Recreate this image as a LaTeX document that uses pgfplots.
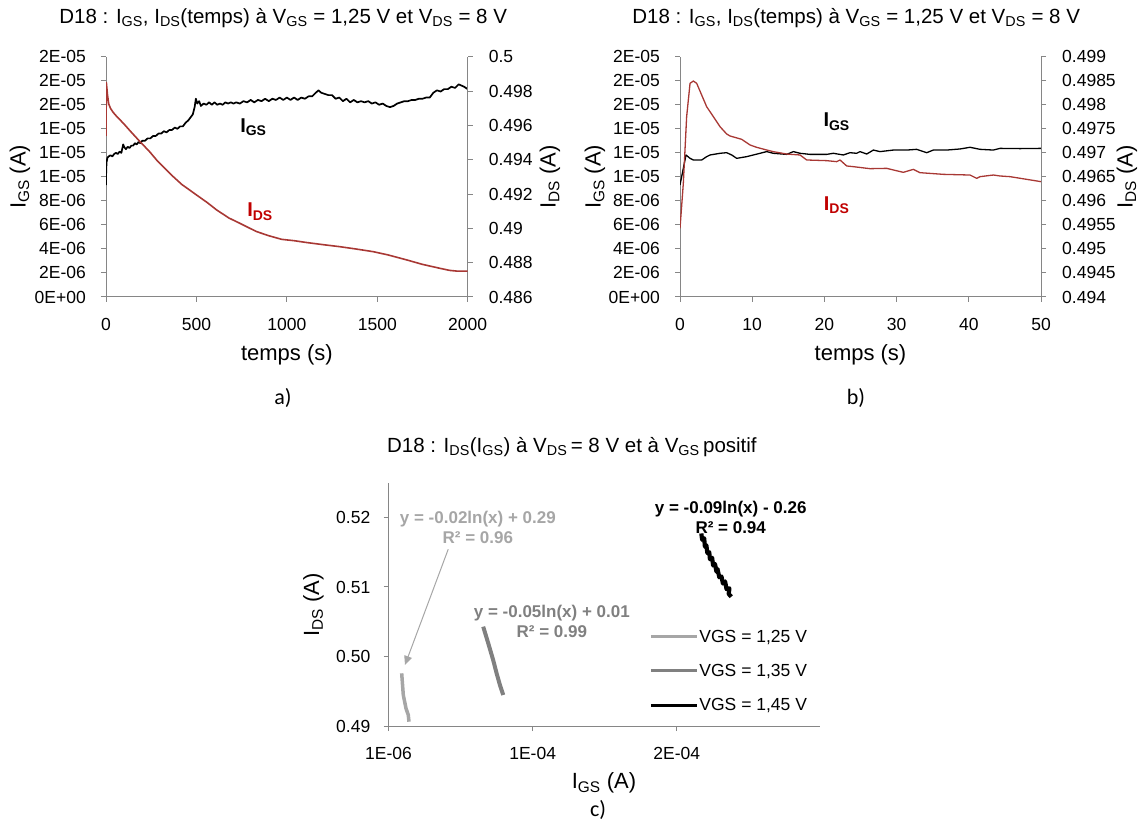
\documentclass[border=0pt]{standalone}
\usepackage{fontspec}
\setmainfont{Liberation Sans}
\newfontfamily\calibri{Carlito}
\usepackage{pgfplots}
\pgfplotsset{compat=1.18}
\usetikzlibrary{arrows.meta}
\definecolor{axgray}{RGB}{134,134,134}
\definecolor{idsred}{RGB}{168,56,52}
\definecolor{labred}{RGB}{192,0,0}
\definecolor{lgray}{RGB}{166,166,166}
\definecolor{mgray}{RGB}{128,128,128}
\newcommand{\tlf}{\fontsize{17.5}{20}\selectfont}
\newcommand{\lbf}{\fontsize{22}{24}\selectfont}
\newcommand{\ttf}{\fontsize{20.5}{23}\selectfont}
\pgfplotsset{
  fig/.style={
    scale only axis,
    axis line style={axgray, line width=1pt},
    tick style={axgray, line width=1pt},
    major tick length=5pt,
    tick align=outside,
    scaled ticks=false,
    tick label style={font=\tlf, text=black},
    xticklabel style={inner sep=0pt, anchor=center, yshift=-22.4pt},
  },
  lefty/.style={axis y line*=left, yticklabel style={inner sep=0pt, anchor=east, xshift=-15pt}},
  righty/.style={axis y line*=right, axis x line=none, yticklabel style={inner sep=0pt, anchor=west, xshift=16pt}},
}
\begin{document}
\begin{tikzpicture}[x=1pt,y=1pt]
\useasboundingbox (0,0) rectangle (1140,820);

% ---------------- a) left axis
\begin{axis}[fig, lefty, at={(106pt,523pt)}, anchor=south west,
  width=361.7pt, height=240.3pt,
  xmin=0, xmax=2000, ymin=0, ymax=2,
  axis x line*=bottom,
  xtick={0,500,1000,1500,2000}, xticklabels={0,500,1000,1500,2000},
  ytick={0,0.2,0.4,0.6,0.8,1,1.2,1.4,1.6,1.8,2},
  yticklabels={0E+00,2E-06,4E-06,6E-06,8E-06,1E-05,1E-05,1E-05,2E-05,2E-05,2E-05},
  xlabel={temps (s)}, ylabel={I\textsubscript{GS} (A)},
  every axis x label/.style={at={(axis description cs:0.5,-0.24)}, anchor=center, font=\lbf},
  every axis y label/.style={at={(axis description cs:-0.238,0.5)}, anchor=center, rotate=90, font=\lbf},
  title={D18 : I\textsubscript{GS},\ I\textsubscript{DS}(temps) à V\textsubscript{GS} = 1,25 V et V\textsubscript{DS} = 8 V},
  every axis title/.style={at={(axis description cs:0.49,1.16)}, anchor=center, font=\ttf},
]
\addplot[black, line width=1.7pt, line join=round] coordinates {
(0,0.932)(1,1.05)(3,1.12)(8,1.16)(15,1.17)(25,1.18)(35,1.17)(45,1.19)(55,1.20)(65,1.19)(75,1.21)(85,1.20)
(95,1.27)(100,1.25)(110,1.23)(120,1.25)(130,1.24)(140,1.26)(150,1.26)(160,1.28)(170,1.27)(180,1.29)(190,1.28)
(200,1.30)(215,1.30)(230,1.32)(245,1.32)(260,1.34)(275,1.34)(290,1.36)(305,1.36)(320,1.38)(335,1.37)(350,1.39)
(365,1.39)(380,1.41)(395,1.40)(410,1.42)(425,1.42)(440,1.45)(455,1.47)(470,1.50)(480,1.52)(490,1.58)(497,1.65)
(505,1.61)(515,1.63)(525,1.59)(540,1.61)(555,1.60)(570,1.62)(585,1.60)(600,1.62)(615,1.60)(630,1.61)(645,1.60)
(660,1.62)(675,1.61)(690,1.62)(705,1.61)(720,1.62)(740,1.61)(760,1.63)(780,1.62)(800,1.64)(820,1.62)(840,1.64)
(860,1.63)(880,1.65)(900,1.63)(920,1.65)(940,1.64)(960,1.66)(980,1.64)(1000,1.66)(1020,1.64)(1040,1.66)(1060,1.64)
(1080,1.66)(1100,1.65)(1120,1.67)(1140,1.67)(1160,1.70)(1175,1.72)(1190,1.70)(1210,1.69)(1230,1.68)(1250,1.68)
(1270,1.65)(1290,1.66)(1310,1.63)(1330,1.65)(1350,1.62)(1370,1.64)(1390,1.62)(1410,1.63)(1430,1.62)(1450,1.63)
(1470,1.61)(1490,1.62)(1510,1.60)(1530,1.61)(1550,1.59)(1570,1.58)(1590,1.59)(1610,1.61)(1630,1.62)(1650,1.63)
(1670,1.63)(1690,1.64)(1710,1.64)(1730,1.65)(1750,1.65)(1770,1.66)(1790,1.66)(1810,1.70)(1830,1.72)(1850,1.71)
(1870,1.73)(1890,1.73)(1910,1.75)(1930,1.74)(1950,1.77)(1965,1.76)(1980,1.75)(2000,1.73)
};
\node[font=\fontsize{20}{22}\selectfont\bfseries, text=black] at (axis cs:815,1.417) {I\textsubscript{GS}};
\node[font=\fontsize{20}{22}\selectfont\bfseries, text=labred] at (axis cs:852,0.71) {I\textsubscript{DS}};
\end{axis}
% ---------------- a) right axis
\begin{axis}[fig, righty, at={(106pt,523pt)}, anchor=south west,
  width=361.7pt, height=240.3pt,
  xmin=0, xmax=2000, ymin=0.486, ymax=0.5,
  ytick={0.486,0.488,0.49,0.492,0.494,0.496,0.498,0.5},
  yticklabels={0.486,0.488,0.49,0.492,0.494,0.496,0.498,0.5},
  ylabel={I\textsubscript{DS} (A)},
  every axis y label/.style={at={(axis description cs:1.2275,0.5)}, anchor=center, rotate=90, font=\lbf},
]
\addplot[idsred, line width=1.6pt, line join=round] coordinates {
(0,0.49538)(2,0.49849)(8,0.4978)(15,0.49725)(25,0.49699)(40,0.49675)(60,0.49651)(96,0.49612)(140,0.4956)
(188,0.49505)(240,0.49448)(280,0.49398)(330,0.49345)(372,0.49301)(420,0.49255)(460,0.49225)(501,0.49194)
(560,0.49150)(612,0.49107)(680,0.49060)(741,0.49029)(790,0.49003)(833,0.48981)(900,0.48957)(971,0.48936)
(1040,0.48928)(1112,0.48917)(1200,0.48905)(1294,0.48893)(1380,0.48880)(1478,0.48864)(1560,0.48845)
(1663,0.48816)(1750,0.48790)(1847,0.48767)(1900,0.48755)(1939,0.48751)(2000,0.48751)
};
\end{axis}

% ---------------- b) left axis
\begin{axis}[fig, lefty, at={(680pt,523pt)}, anchor=south west,
  width=361pt, height=240.3pt,
  xmin=0, xmax=50, ymin=0, ymax=2,
  axis x line*=bottom,
  xtick={0,10,20,30,40,50}, xticklabels={0,10,20,30,40,50},
  ytick={0,0.2,0.4,0.6,0.8,1,1.2,1.4,1.6,1.8,2},
  yticklabels={0E+00,2E-06,4E-06,6E-06,8E-06,1E-05,1E-05,1E-05,2E-05,2E-05,2E-05},
  xlabel={temps (s)}, ylabel={I\textsubscript{GS} (A)},
  every axis x label/.style={at={(axis description cs:0.5,-0.24)}, anchor=center, font=\lbf},
  every axis y label/.style={at={(axis description cs:-0.2355,0.5)}, anchor=center, rotate=90, font=\lbf},
  title={D18 : I\textsubscript{GS},\ I\textsubscript{DS}(temps) à V\textsubscript{GS} = 1,25 V et V\textsubscript{DS} = 8 V},
  every axis title/.style={at={(axis description cs:0.488,1.16)}, anchor=center, font=\ttf},
]
\addplot[black, line width=1.3pt, line join=round] coordinates {
(0,0.932)(0.83,1.182)(1.39,1.154)(1.85,1.140)(3.0,1.140)(3.69,1.168)(4.16,1.182)(5.54,1.196)(6.46,1.201)
(7.16,1.182)(7.85,1.154)(9.23,1.168)(10.16,1.182)(11.08,1.196)(12.0,1.210)(12.93,1.196)(14.77,1.187)
(15.70,1.210)(16.62,1.196)(18.0,1.187)(20.31,1.187)(21.24,1.196)(22.62,1.182)(23.55,1.201)(24.47,1.196)
(24.93,1.210)(25.86,1.190)(26.78,1.223)(27.70,1.210)(29.55,1.223)(31.40,1.223)(32.78,1.229)(34.17,1.201)
(35.09,1.223)(36.94,1.223)(38.78,1.232)(40.17,1.246)(41.55,1.229)(43.40,1.223)(44.32,1.237)(47.09,1.235)(50,1.237)
};
\node[font=\fontsize{20}{22}\selectfont\bfseries, text=black] at (axis cs:21.7,1.459) {I\textsubscript{GS}};
\node[font=\fontsize{20}{22}\selectfont\bfseries, text=labred] at (axis cs:21.7,0.766) {I\textsubscript{DS}};
\end{axis}
% ---------------- b) right axis
\begin{axis}[fig, righty, at={(680pt,523pt)}, anchor=south west,
  width=361pt, height=240.3pt,
  xmin=0, xmax=50, ymin=0.494, ymax=0.499,
  ytick={0.494,0.4945,0.495,0.4955,0.496,0.4965,0.497,0.4975,0.498,0.4985,0.499},
  yticklabels={0.494,0.4945,0.495,0.4955,0.496,0.4965,0.497,0.4975,0.498,0.4985,0.499},
  ylabel={I\textsubscript{DS} (A)},
  every axis y label/.style={at={(axis description cs:1.238,0.5)}, anchor=center, rotate=90, font=\lbf},
]
\addplot[idsred, line width=1.3pt, line join=round] coordinates {
(0,0.495429)(0.46,0.496365)(0.92,0.497752)(1.39,0.498446)(1.85,0.498494)(2.31,0.498446)(3.0,0.498203)
(3.69,0.497960)(4.62,0.497752)(5.54,0.497544)(6.46,0.497392)(6.93,0.497350)(8.54,0.497281)(9.70,0.497163)
(10.62,0.497114)(12.0,0.497059)(12.93,0.497024)(14.77,0.496975)(16.62,0.496955)(17.54,0.496851)
(20.31,0.496837)(21.70,0.496816)(22.16,0.496851)(23.09,0.496726)(24.01,0.496712)(26.32,0.496670)
(28.63,0.496677)(29.55,0.496643)(30.93,0.496594)(32.32,0.496656)(33.24,0.496587)(36.47,0.496552)
(40.17,0.496538)(41.09,0.496469)(41.55,0.496504)(43.40,0.496538)(44.32,0.496518)(45.71,0.496504)
(48.02,0.496448)(50,0.496400)
};
\end{axis}

% ---------------- c)
\begin{axis}[fig, lefty, at={(388.5pt,94pt)}, anchor=south west,
  width=431pt, height=243.3pt,
  xmin=1e-6, xmax=3e-4, ymin=0.49, ymax=0.525,
  axis x line*=bottom,
  xtick={1e-6,1.01e-4,2.01e-4}, xticklabels={1E-06,1E-04,2E-04},
  ytick={0.49,0.50,0.51,0.52}, yticklabels={0.49,0.50,0.51,0.52},
  yticklabel style={xshift=2pt},
  xlabel={I\textsubscript{GS} (A)}, ylabel={I\textsubscript{DS} (A)},
  every axis x label/.style={at={(axis description cs:0.5,-0.234)}, anchor=center, font=\lbf},
  every axis y label/.style={at={(axis description cs:-0.174,0.497)}, anchor=center, rotate=90, font=\lbf},
  title={D18 : I\textsubscript{DS}(I\textsubscript{GS}) à V\textsubscript{DS}\,= 8 V et à V\textsubscript{GS}\,positif},
  every axis title/.style={at={(axis description cs:0.4255,1.148)}, anchor=center, font=\ttf},
  legend style={draw=none, fill=none, at={(0.605,0.40)}, anchor=north west, font=\tlf,
    row sep=18.5pt, inner sep=0pt, nodes={inner sep=1pt}},
  legend cell align=left,
  legend image code/.code={\draw[#1, line width=3pt] (0pt,0pt) -- (46pt,0pt);},
]
\addplot[lgray, line width=3.5pt, line join=round] coordinates {
(1.015e-5,0.49758)(1.126e-5,0.49446)(1.313e-5,0.49255)(1.472e-5,0.49158)(1.52e-5,0.49062)
};
\addlegendentry{VGS = 1,25 V}
\addplot[mgray, line width=4pt, line join=round] coordinates {
(6.67e-5,0.50429)(7.02e-5,0.50190)(7.36e-5,0.49950)(7.60e-5,0.49758)(7.83e-5,0.49590)(8.06e-5,0.49446)
};
\addlegendentry{VGS = 1,35 V}
\addplot[black, line width=4.2pt, line join=round] coordinates {
(2.180e-4,0.5177)(2.186e-4,0.5168)(2.200e-4,0.5170)(2.205e-4,0.5158)(2.215e-4,0.5160)(2.222e-4,0.5149)
(2.235e-4,0.5150)(2.240e-4,0.5140)(2.255e-4,0.5142)(2.262e-4,0.5131)(2.275e-4,0.5133)(2.285e-4,0.5122)
(2.292e-4,0.5126)(2.305e-4,0.5114)(2.320e-4,0.5115)(2.330e-4,0.5105)(2.345e-4,0.5108)(2.355e-4,0.5097)
(2.375e-4,0.5098)(2.370e-4,0.5090)(2.388e-4,0.5086)
};
\addlegendentry{VGS = 1,45 V}
\draw[lgray, line width=1pt, -{Triangle[length=9pt,width=8pt]}] (axis cs:4.244e-5,0.51543) -- (axis cs:1.243e-5,0.49878);
\node[text=lgray, font=\fontsize{17}{20}\selectfont\bfseries, align=center] at (axis cs:6.3e-5,0.5186) {y = -0.02ln(x) + 0.29\\R² = 0.96};
\node[text=mgray, font=\fontsize{17}{20}\selectfont\bfseries, align=center] at (axis cs:1.143e-4,0.50502) {y = -0.05ln(x) + 0.01\\R² = 0.99};
\node[text=black, font=\fontsize{17}{20}\selectfont\bfseries, align=center] at (axis cs:2.384e-4,0.52003) {y = -0.09ln(x) - 0.26\\R² = 0.94};
\end{axis}

\node[font=\calibri\fontsize{22}{24}\selectfont] at (283,422) {a)};
\node[font=\calibri\fontsize{22}{24}\selectfont] at (856,422) {b)};
\node[font=\calibri\fontsize{22}{24}\selectfont] at (598,10) {c)};
\end{tikzpicture}
\end{document}
